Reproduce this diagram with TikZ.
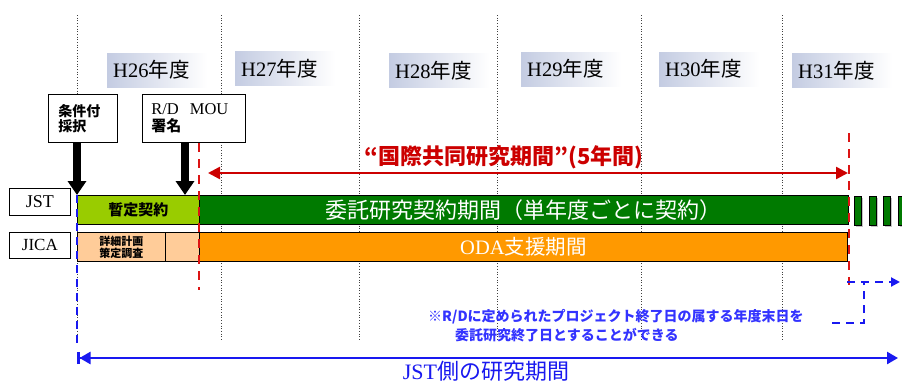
\documentclass[tikz,border=0pt]{standalone}
\usepackage{fontspec}
\setmainfont{Liberation Serif}
\newfontfamily\jp{Noto Sans CJK JP}
\usetikzlibrary{arrows.meta,shadows,calc}
\definecolor{yeargray}{RGB}{196,204,226}
\definecolor{lgreen}{RGB}{153,204,0}
\definecolor{dgreen}{RGB}{0,122,0}
\definecolor{peach}{RGB}{255,204,153}
\definecolor{oranbar}{RGB}{255,153,0}
\definecolor{dred}{RGB}{204,0,0}
\definecolor{lred}{RGB}{220,20,20}
\definecolor{jblue}{RGB}{25,25,240}
\definecolor{nblue}{RGB}{51,51,255}
\newcommand\fsz[2]{\fontsize{#1}{#2}\selectfont}
\begin{document}
\begin{tikzpicture}[x=1pt,y=-1pt,
  grid/.style={dotted, line width=0.7pt, black!75},
  yearbox/.style={anchor=west, left color=yeargray, right color=white, minimum height=34pt, text width=88pt, align=left, inner xsep=6pt, inner ysep=0pt, font=\fsz{20.5pt}{22pt}},
  lbox/.style={draw=black, line width=0.8pt, fill=white, anchor=north west, inner sep=0pt},
  bar/.style={draw=black, line width=0.8pt, anchor=north west, inner sep=0pt, minimum height=29pt},
  bigarrow/.style={line width=8pt, -{Triangle[length=14pt 0 0, width=18pt 0 0]}},
  reddash/.style={lred, line width=2.5pt, dash pattern=on 9pt off 7pt},
  redarrow/.style={dred, line width=2.5pt, {Triangle[length=12pt 0 0, width=12pt 0 0]}-{Triangle[length=12pt 0 0, width=12pt 0 0]}},
  bluedash/.style={jblue, line width=2pt, dash pattern=on 8pt off 6pt},
  bluearrow/.style={jblue, line width=2.5pt, {Bar[width=12pt 0 0]Triangle[length=11pt 0 0, width=12pt 0 0]}-{Triangle[length=11pt 0 0, width=12pt 0 0]}}
]
\clip (0,0) rectangle (902,383);
\fill[white] (0,0) rectangle (902,383);
% grid
\foreach \gx [count=\i] in {77,221,359,497,641,782}{
  \coordinate (gt\i) at (\gx,15);
  \coordinate (gb\i) at (\gx,340);
  \draw[grid] (gt\i) -- (gb\i);
}
% year labels
\node[yearbox] (y26) at (107,70) {H26{\jp 年度}};
\node[yearbox] (y27) at (235,68.5) {H27{\jp 年度}};
\node[yearbox] (y28) at (389,70.5) {H28{\jp 年度}};
\node[yearbox] (y29) at (521,69) {H29{\jp 年度}};
\node[yearbox] (y30) at (659,69) {H30{\jp 年度}};
\node[yearbox] (y31) at (792,70.5) {H31{\jp 年度}};
% top boxes
\node[lbox, minimum width=69pt, minimum height=48pt, text width=49pt, align=left, inner xsep=10pt, font=\jp\bfseries\fsz{14pt}{15pt}] (sel) at (48,94) {条件付\\採択};
\node[lbox, minimum width=103pt, minimum height=48pt, text width=85pt, align=left, inner xsep=9pt, font=\fsz{16.5pt}{17pt}] (mou) at (142,94) {R/D\ \ MOU\\{\jp\bfseries\fsz{15pt}{16pt}署名}};
% row labels
\node[lbox, minimum width=61pt, minimum height=27pt, font=\fsz{18pt}{20pt}] (jst) at (9,188) {JST};
\node[lbox, minimum width=61pt, minimum height=26pt, font=\fsz{17pt}{19pt}] (jica) at (9,232) {JICA};
% bars
\node[bar, fill=lgreen, minimum width=122pt, font=\jp\bfseries\fsz{15pt}{17pt}] (prov) at (77,195) {暫定契約};
\node[bar, fill=dgreen, minimum width=649pt, text=white, font=\jp\fsz{22pt}{24pt}] (main) at (199,195) {委託研究契約期間（単年度ごとに契約）};
\node[bar, fill=peach, minimum width=88pt, align=center, font=\jp\bfseries\fsz{11pt}{12pt}] (survey) at (77,232) {詳細計画\\策定調査};
\node[bar, fill=peach, minimum width=34pt] (survey2) at (165,232) {};
\node[bar, fill=oranbar, minimum width=648pt, text=white, font=\fsz{20.5pt}{22pt}] (oda) at (199,232) {ODA{\jp 支援期間}};
\foreach \k in {0,...,3}{
  \node[bar, fill=dgreen, minimum width=7pt, drop shadow={shadow xshift=2pt, shadow yshift=-2pt, opacity=0.45}] (ext\k) at ({854+14.5*\k},196) {};
}
% black arrows
\coordinate (a2) at (185,195);
\draw[bigarrow] (sel.south -| prov.north west) -- (prov.north west);
\draw[bigarrow] (mou.south -| a2) -- (a2);
% red lines
\coordinate (r1t) at (199,143);
\coordinate (r1b) at (199,290);
\coordinate (r2t) at (849,133);
\coordinate (r2b) at (849,285);
\draw[reddash] (r1t) -- (r1b);
\draw[reddash] (r2t) -- (r2b);
\coordinate (ra1) at (208,173);
\coordinate (ra2) at (848,173);
\draw[redarrow] (ra1) -- (ra2);
\node[text=dred, font=\jp\bfseries\fsz{22pt}{24pt}] (rlabel) at (504,157) {“国際共同研究期間”(5年間)};
% blue
\coordinate (b1t) at (77,195);
\coordinate (b1b) at (77,343);
\draw[bluedash] (b1t) -- (b1b);
\coordinate (bl) at (77,358);
\coordinate (br) at (898,358);
\draw[bluearrow] (bl) -- (br);
\node[text=jblue, inner sep=0pt, anchor=base, font=\fsz{22pt}{24pt}] (jstp) at (486,379) {JST{\jp 側の研究期間}};
\node[text=nblue, inner sep=0pt, anchor=west, font=\jp\bfseries\fsz{14pt}{16pt}] (note1) at (428,317) {※R/Dに定められたプロジェクト終了日の属する年度末日を};
\node[text=nblue, inner sep=0pt, anchor=west, font=\jp\bfseries\fsz{14pt}{16pt}] (note2) at (455,335) {委託研究終了日とすることができる};
\coordinate (bd1) at (832,323);
\coordinate (bd2) at (864,323);
\coordinate (bd3) at (864,282);
\coordinate (bh1) at (847,282);
\coordinate (bh2) at (900,282);
\draw[bluedash] (bd1) -- (bd2) -- (bd3);
\draw[bluedash, -{Triangle[length=9pt 0 0, width=9pt 0 0]}] (bh1) -- (bh2);
\end{tikzpicture}
\end{document}
